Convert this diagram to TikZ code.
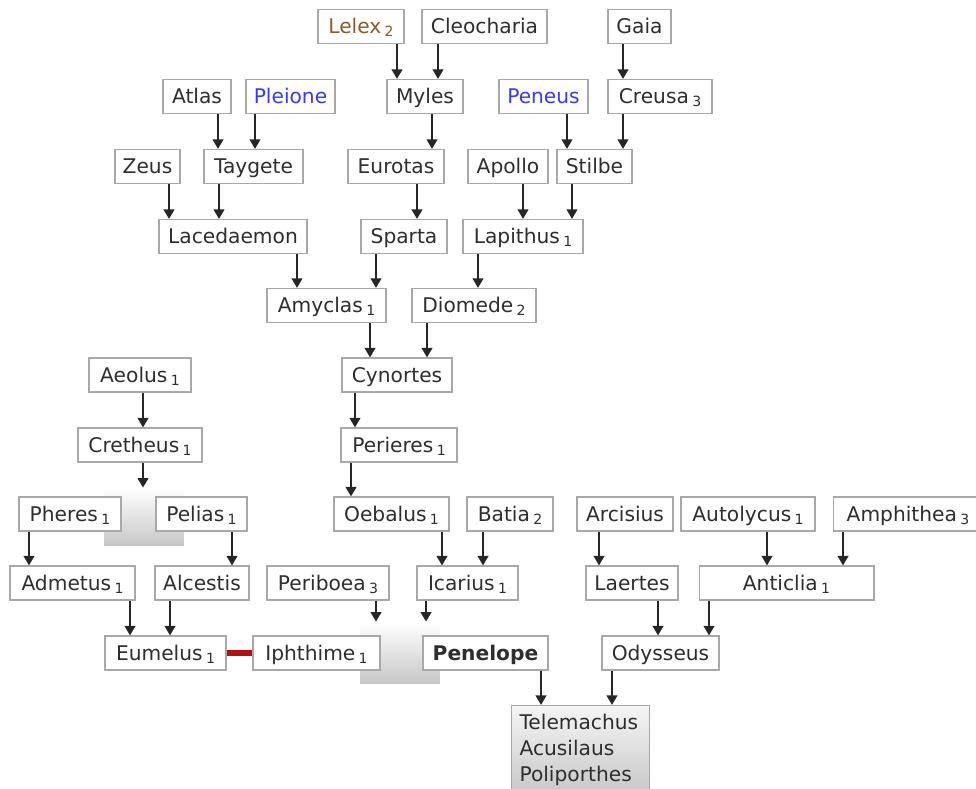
\documentclass[tikz,border=0pt]{standalone}
\usepackage{fontspec}
\setmainfont{DejaVu Sans}
\usetikzlibrary{arrows.meta}

\definecolor{tree}{HTML}{2E2E2E}
\definecolor{frame}{HTML}{A8A8A8}
\definecolor{godblue}{HTML}{3A3AF5}
\definecolor{lelexbrown}{HTML}{8E5A2A}
\definecolor{wedred}{HTML}{B01010}

% small generation index after a name
\newcommand\gsub[1]{\,{\fontsize{8}{8}\selectfont\raisebox{-0.35ex}{#1}}}

\tikzset{
    person/.style={draw=frame, fill=white, text=tree, line width=0.6pt,
        font=\fontsize{11.5}{14.8}\selectfont,
        minimum height=0.68cm, inner xsep=2pt, inner ysep=0pt,
        text height=10pt, text depth=1.6pt},
    kids/.style={draw=frame, text=tree, line width=0.6pt,
        font=\fontsize{11.5}{14.8}\selectfont,
        top color=black!4, bottom color=black!22,
        anchor=north west, align=left, text width=2.44cm,
        inner xsep=0.16cm, inner ysep=0.18cm},
    couple/.style={inner sep=0pt, top color=white, bottom color=black!22},
    arr/.style={-{Triangle[length=5.5pt,width=6pt]}, line width=1.5pt, draw=black!85},
    wed/.style={draw=wedred, line width=0.12cm}
}

\begin{document}
\begin{tikzpicture}[x=0.02cm, y=-0.02cm]
    \useasboundingbox (0,0) rectangle (976,788);

    % marriage blocks
    \node[couple, minimum width=1.6cm, minimum height=1.14cm] (wedA) at (144,516.5) {};
    \node[couple, minimum width=1.6cm, minimum height=1.22cm] (wedB) at (400,652.5) {};

    % row 0
    \node[person, minimum width=1.72cm, text=lelexbrown] (lelex) at (361,26.5) {Lelex\gsub{2}};
    \node[person, minimum width=2.5cm] (cleocharia) at (484.5,26.5) {Cleocharia};
    \node[person, minimum width=1.26cm] (gaia) at (639.5,26.5) {Gaia};
    % row 1
    \node[person, minimum width=1.36cm] (atlas) at (197,96.5) {Atlas};
    \node[person, minimum width=1.78cm, text=godblue] (pleione) at (290.5,96.5) {Pleione};
    \node[person, minimum width=1.52cm] (myles) at (425,96.5) {Myles};
    \node[person, minimum width=1.78cm, text=godblue] (peneus) at (543.5,96.5) {Peneus};
    \node[person, minimum width=2.08cm] (creusa) at (660,96.5) {Creusa\gsub{3}};
    % row 2
    \node[person, minimum width=1.3cm] (zeus) at (147.5,166.5) {Zeus};
    \node[person, minimum width=1.98cm] (taygete) at (253.5,166.5) {Taygete};
    \node[person, minimum width=1.92cm] (eurotas) at (396,166.5) {Eurotas};
    \node[person, minimum width=1.6cm] (apollo) at (508,166.5) {Apollo};
    \node[person, minimum width=1.5cm] (stilbe) at (594.5,166.5) {Stilbe};
    % row 3
    \node[person, minimum width=2.96cm] (lacedaemon) at (233,236.5) {Lacedaemon};
    \node[person, minimum width=1.72cm] (sparta) at (404,236.5) {Sparta};
    \node[person, minimum width=2.4cm] (lapithus) at (523,236.5) {Lapithus\gsub{1}};
    % row 4
    \node[person, minimum width=2.38cm] (amyclas) at (326.5,305.5) {Amyclas\gsub{1}};
    \node[person, minimum width=2.48cm] (diomede) at (474,305.5) {Diomede\gsub{2}};
    % row 5
    \node[person, minimum width=2.04cm] (aeolus) at (140,375) {Aeolus\gsub{1}};
    \node[person, minimum width=2.2cm] (cynortes) at (397,375) {Cynortes};
    % row 6
    \node[person, minimum width=2.48cm] (cretheus) at (140,445) {Cretheus\gsub{1}};
    \node[person, minimum width=2.32cm] (perieres) at (399,445) {Perieres\gsub{1}};
    % row 7
    \node[person, minimum width=2.04cm] (pheres) at (70,514) {Pheres\gsub{1}};
    \node[person, minimum width=1.82cm] (pelias) at (201.5,514) {Pelias\gsub{1}};
    \node[person, minimum width=2.3cm] (oebalus) at (391.5,514) {Oebalus\gsub{1}};
    \node[person, minimum width=1.72cm] (batia) at (510,514) {Batia\gsub{2}};
    \node[person, minimum width=1.92cm] (arcisius) at (625,514) {Arcisius};
    \node[person, minimum width=2.68cm] (autolycus) at (748,514) {Autolycus\gsub{1}};
    \node[person, minimum width=3.0cm] (amphithea) at (908,514) {Amphithea\gsub{3}};
    % row 8
    \node[person, minimum width=2.5cm] (admetus) at (72.5,583) {Admetus\gsub{1}};
    \node[person, minimum width=1.88cm] (alcestis) at (202,583) {Alcestis};
    \node[person, minimum width=2.44cm] (periboea) at (328,583) {Periboea\gsub{3}};
    \node[person, minimum width=2.02cm] (icarius) at (467.5,583) {Icarius\gsub{1}};
    \node[person, minimum width=1.84cm] (laertes) at (632,583) {Laertes};
    \node[person, minimum width=3.5cm] (anticlia) at (786.5,583) {Anticlia\gsub{1}};
    % row 9
    \node[person, minimum width=2.42cm] (eumelus) at (165.5,653) {Eumelus\gsub{1}};
    \node[person, minimum width=2.54cm] (iphthime) at (316.5,653) {Iphthime\gsub{1}};
    \node[person, minimum width=2.5cm, font=\fontsize{11.5}{14.8}\selectfont\bfseries] (penelope) at (485.5,653) {Penelope};
    \node[person, minimum width=2.34cm] (odysseus) at (660.5,653) {Odysseus};
    % children
    \node[kids] (telemachus) at (511,705) {Telemachus\\Acusilaus\\Poliporthes};

    \draw[wed] (eumelus.east) -- (iphthime.west);

    \foreach \up/\down/\x in {lelex/myles/397, cleocharia/myles/438, myles/eurotas/432,
        gaia/creusa/623, atlas/taygete/218, pleione/taygete/255, peneus/stilbe/567,
        creusa/stilbe/623, zeus/lacedaemon/169, taygete/lacedaemon/219, eurotas/sparta/417,
        apollo/lapithus/523, stilbe/lapithus/572, lacedaemon/amyclas/297, sparta/amyclas/376,
        lapithus/diomede/478, amyclas/cynortes/370, diomede/cynortes/427, aeolus/cretheus/143,
        cretheus/wedA/143, cynortes/perieres/355, perieres/oebalus/351, pheres/admetus/29,
        pelias/alcestis/232, oebalus/icarius/442, batia/icarius/483, arcisius/laertes/599,
        autolycus/anticlia/767, amphithea/anticlia/843, admetus/eumelus/130,
        alcestis/eumelus/170, periboea/wedB/376, icarius/wedB/426, laertes/odysseus/658,
        anticlia/odysseus/709, penelope/telemachus/541, odysseus/telemachus/612}
        \draw[arr] (\x,0 |- \up.south) -- (\x,0 |- \down.north);
\end{tikzpicture}
\end{document}
